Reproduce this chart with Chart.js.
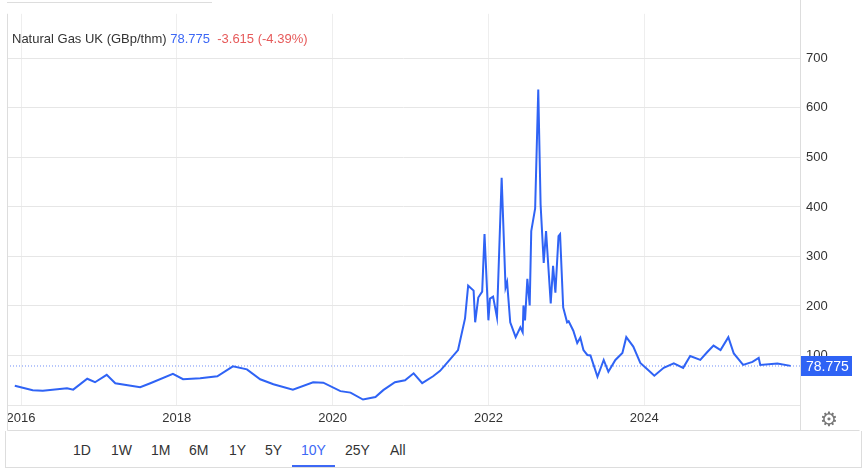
<!DOCTYPE html>
<html><head><meta charset="utf-8">
<script src="https://cdn.jsdelivr.net/npm/chart.js@4"></script>
<style>
body{margin:0;background:#fff;font-family:Arial,"Liberation Sans",sans-serif;}
#wrap{position:relative;width:866px;height:471px;}
canvas{position:absolute;left:0;top:0;}
#title{position:absolute;left:12px;top:31px;font-size:13px;color:#333;}
#bar{position:absolute;left:5px;top:431px;width:855px;height:36px;border:1px solid #ddd;border-top:none;}
.b{position:absolute;top:11px;font-size:14px;color:#333;}
#gear{position:absolute;left:820px;top:407px;font-size:20px;color:#777;}
</style></head><body>
<div id="wrap">
<canvas id="c" width="866" height="431"></canvas>
<div id="title">Natural Gas UK (GBp/thm) <span style="color:#3d68f5">78.775</span>&nbsp; <span style="color:#e65a5a">-3.615 (-4.39%)</span></div>
<div id="gear">⚙</div>
<div id="bar"></div>
</div>
<script>
const years = [2015.92,2016.15,2016.28,2016.59,2016.67,2016.85,2016.95,2017.10,2017.21,2017.53,2017.66,2017.95,2018.08,2018.30,2018.52,2018.72,2018.90,2019.07,2019.24,2019.49,2019.75,2019.88,2020.10,2020.23,2020.39,2020.55,2020.65,2020.80,2020.93,2021.04,2021.15,2021.29,2021.38,2021.48,2021.61,2021.70,2021.74,2021.81,2021.83,2021.87,2021.92,2021.95,2022.00,2022.02,2022.06,2022.11,2022.17,2022.22,2022.24,2022.28,2022.35,2022.41,2022.44,2022.45,2022.47,2022.50,2022.53,2022.55,2022.60,2022.64,2022.67,2022.71,2022.74,2022.80,2022.83,2022.86,2022.90,2022.92,2022.96,2023.01,2023.03,2023.09,2023.14,2023.18,2023.22,2023.27,2023.31,2023.40,2023.48,2023.54,2023.63,2023.72,2023.77,2023.86,2023.95,2024.04,2024.13,2024.25,2024.38,2024.50,2024.59,2024.72,2024.81,2024.89,2024.98,2025.08,2025.15,2025.27,2025.39,2025.47,2025.49,2025.71,2025.88];
const prices = [39,30,29,34,31,53,46,61,44,36,44,63,52,54,58,78,72,52,42,31,46,45,28,25,11,16,30,46,50,64,44,58,69,87,111,175,241,231,167,217,229,345,171,215,219,177,459,237,248,167,137,157,147,201,171,255,201,351,397,637,405,287,351,205,281,227,341,345,197,167,169,150,125,136,111,101,100,57,91,67,91,105,137,118,85,72,59,75,84,75,99,91,107,120,111,137,104,81,87,95,81,84,79];
const lastPrice = 78.775;
const yTicks = [100,200,300,400,500,600,700];
const xTicks = [2016,2018,2020,2022,2024];
const buttons = ['1D','1W','1M','6M','1Y','5Y','10Y','25Y','All'];

const bx=[72,110,150,188,228,264,300,344,389];
const bar=document.getElementById('bar');
buttons.forEach((t,i)=>{const d=document.createElement('div');d.className='b';d.style.left=(bx[i]-5)+'px';d.textContent=t;
 if(t==='10Y'){d.style.color='#3d68f5';const u=document.createElement('div');u.style.cssText='position:absolute;left:-9px;right:-9px;top:23px;height:2px;background:#3d68f5';d.appendChild(u);}
 bar.appendChild(d);});

const tag={id:'tag',afterDraw(ch){const c=ch.ctx,y=ch.scales.y.getPixelForValue(lastPrice),a=ch.chartArea;
 c.save();c.fillStyle='#2f63f5';c.fillRect(a.right,y-10,52,20);c.fillStyle='#fff';c.font='14px Arial';c.textBaseline='middle';c.fillText(lastPrice.toFixed(3),a.right+6,y+1);
 c.strokeStyle='#ddd';c.lineWidth=1;c.beginPath();c.moveTo(7.5,a.top);c.lineTo(7.5,430.5);c.lineTo(859.5,430.5);c.moveTo(a.right+0.5,0);c.lineTo(a.right+0.5,430);c.moveTo(7,2.5);c.lineTo(212,2.5);c.stroke();c.restore();}};

new Chart(document.getElementById('c'),{
 type:'line',
 data:{datasets:[
  {data:years.map((x,i)=>({x,y:prices[i]})),borderColor:'#2f63f5',borderWidth:2,pointRadius:0,tension:0},
  {data:[{x:2015.82,y:lastPrice},{x:2026,y:lastPrice}],borderColor:'#6f8ff7',borderWidth:1,borderDash:[1,2],pointRadius:0}
 ]},
 options:{responsive:false,animation:false,layout:{padding:{top:8,left:7,right:0,bottom:0}},
  plugins:{legend:{display:false},tooltip:{enabled:false}},
  scales:{
   x:{type:'linear',min:2015.82,max:2026,
    afterBuildTicks(s){s.ticks=xTicks.map(v=>({value:v}));},
    afterFit(s){s.height=26;},
    grid:{color:'#eeeeee',drawTicks:false},border:{display:false},
    ticks:{padding:6,maxRotation:0,color:'#333',font:{size:13,family:'Arial'},callback:v=>String(v)}},
   y:{position:'right',min:0,max:790,
    afterBuildTicks(s){s.ticks=[0].concat(yTicks).map(v=>({value:v}));},
    afterFit(s){s.width=66;},
    grid:{color:'#e6e6e6',drawTicks:false},border:{display:false},
    ticks:{padding:6,color:'#333',font:{size:13,family:'Arial'},callback:v=>v===0?'':String(v)}}
  }},
 plugins:[tag]
});
</script></body></html>
